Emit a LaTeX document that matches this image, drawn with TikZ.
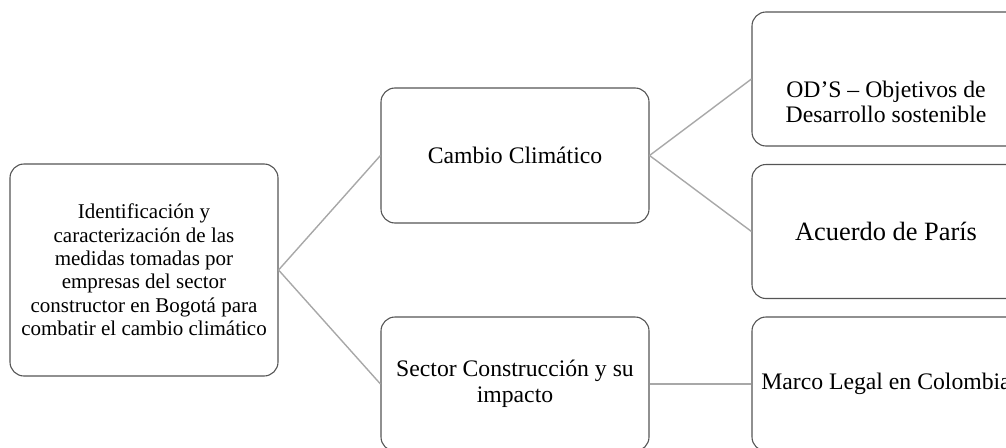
\documentclass[tikz,border=0pt]{standalone}
\usepackage{fontspec}
\setmainfont{Liberation Serif}
\definecolor{boxgray}{HTML}{555555}
\definecolor{linkgray}{HTML}{A8A8A8}
\begin{document}
\begin{tikzpicture}[x=1pt,y=-1pt,
  box/.style={draw=boxgray, line width=1.1pt, rounded corners=14pt,
    minimum width=268pt, minimum height=134pt, inner sep=0pt,
    align=center, font=\fontsize{23.7}{25.5}\selectfont, text=black},
  link/.style={draw=linkgray, line width=1.4pt}]
\useasboundingbox (0,0) rectangle (1006,447);
\clip (0,0) rectangle (1006,447);
\node[box, minimum height=212pt, font=\fontsize{21}{23.4}\selectfont] (root) at (144,270)
  {Identificación y\\caracterización de las\\medidas tomadas por\\empresas del sector\\constructor en Bogotá para\\combatir el cambio climático};
\node[box, minimum height=135pt] (cc) at (515,155.5) {Cambio Climático};
\node[box] (sc) at (515,384) {Sector Construcción y su\\impacto};
\node[box, label={[align=center, font=\fontsize{23.7}{25.5}\selectfont, yshift=-23pt]center:OD’S – Objetivos de\\Desarrollo sostenible}] (ods) at (886,79) {};
\node[box, font=\fontsize{26.4}{28}\selectfont] (par) at (886,231.5) {Acuerdo de París};
\node[box] (ml) at (886,384) {Marco Legal en Colombia};
\draw[link] (root.east) -- (cc.west);
\draw[link] (root.east) -- (sc.west);
\draw[link] (cc.east) -- (ods.west);
\draw[link] (cc.east) -- (par.west);
\draw[link] (sc.east) -- (ml.west);
\end{tikzpicture}
\end{document}
